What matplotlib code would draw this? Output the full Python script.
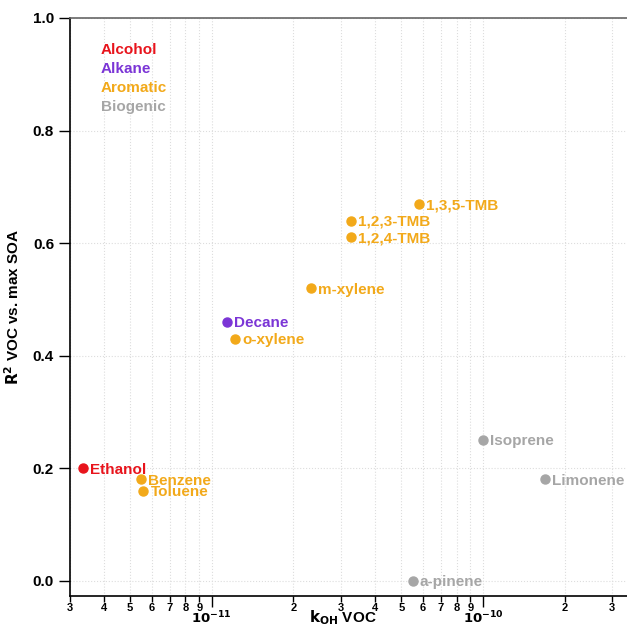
import matplotlib
matplotlib.use("Agg")
import matplotlib.pyplot as plt
from matplotlib.ticker import LogLocator, FuncFormatter, FixedLocator
import numpy as np

names = ["Ethanol", "Decane", "Benzene", "Toluene", "o-xylene", "m-xylene",
         "1,2,3-TMB", "1,2,4-TMB", "1,3,5-TMB", "a-pinene", "Isoprene", "Limonene"]
groups = ["Alcohol", "Alkane", "Aromatic", "Aromatic", "Aromatic", "Aromatic",
          "Aromatic", "Aromatic", "Aromatic", "Biogenic", "Biogenic", "Biogenic"]
koh = [3.34e-12, 1.14e-11, 5.47e-12, 5.6e-12, 1.22e-11, 2.32e-11,
       3.26e-11, 3.26e-11, 5.8e-11, 5.5e-11, 1.0e-10, 1.7e-10]
r2 = [0.20, 0.46, 0.18, 0.16, 0.43, 0.52, 0.64, 0.61, 0.67, 0.0, 0.25, 0.18]
colors = {"Alcohol": "#e8141c", "Alkane": "#7b35d6", "Aromatic": "#f2a91a", "Biogenic": "#a6a6a6"}

plt.rcParams['font.family'] = ['Liberation Sans', 'DejaVu Sans']
fig = plt.figure(figsize=(6.27, 6.26), dpi=100)
ax = fig.add_axes([70/627, 1-596/626, 1-70/627, (596-18)/626])
ax.set_xscale('log')
ax.set_xlim(3e-12, 3.4e-10)
ax.set_ylim(-0.027, 1.0)

for n, g, x, y in zip(names, groups, koh, r2):
    c = colors[g]
    ax.plot(x, y, 'o', color=c, ms=6.5, clip_on=False, zorder=3)
    ax.annotate(n, (x, y), xytext=(5, -1), textcoords='offset points', va='center', ha='left',
                color=c, fontsize=11, fontweight='bold', annotation_clip=False)

for i, g in enumerate(["Alcohol", "Alkane", "Aromatic", "Biogenic"]):
    ax.text(0.055, 0.945 - i*0.033, g, transform=ax.transAxes, color=colors[g],
            fontsize=11, fontweight='bold', va='center')

ax.xaxis.set_major_locator(FixedLocator([1e-11, 1e-10]))
ax.xaxis.set_minor_locator(LogLocator(base=10, subs=np.arange(2, 10)))
ax.xaxis.set_major_formatter(FuncFormatter(lambda v, p: r"$\mathbf{10^{%d}}$" % round(np.log10(v))))
ax.xaxis.set_minor_formatter(FuncFormatter(lambda v, p: "%d" % round(v / 10**np.floor(np.log10(v)+1e-9))))
ax.tick_params(axis='x', which='major', length=8, width=1, pad=2, labelsize=9.5)
ax.tick_params(axis='x', which='minor', length=4, width=1, pad=1, labelsize=8)
for lab in ax.xaxis.get_minorticklabels():
    lab.set_fontweight('bold')
ax.set_yticks([0.0, 0.2, 0.4, 0.6, 0.8, 1.0])
ax.set_yticklabels(["0.0", "0.2", "0.4", "0.6", "0.8", "1.0"], fontweight='bold', fontsize=11)
ax.tick_params(axis='y', length=8, width=1)

ax.grid(True, which='both', color='#dddddd', linestyle=':', linewidth=0.8)
ax.spines['right'].set_visible(False)
for s in ['left', 'bottom', 'top']:
    ax.spines[s].set_linewidth(1.2)
ax.spines['top'].set_color('#666666')

fig.text(343/627, 1-618/626, r"$\mathbf{k_{OH}}$ VOC", fontweight='bold', fontsize=11,
         ha='center', va='center')
ax.set_ylabel(r"$\mathbf{R^2}$ VOC vs. max SOA", fontweight='bold', fontsize=11, labelpad=8)
fig.savefig("out.png", dpi=100)
